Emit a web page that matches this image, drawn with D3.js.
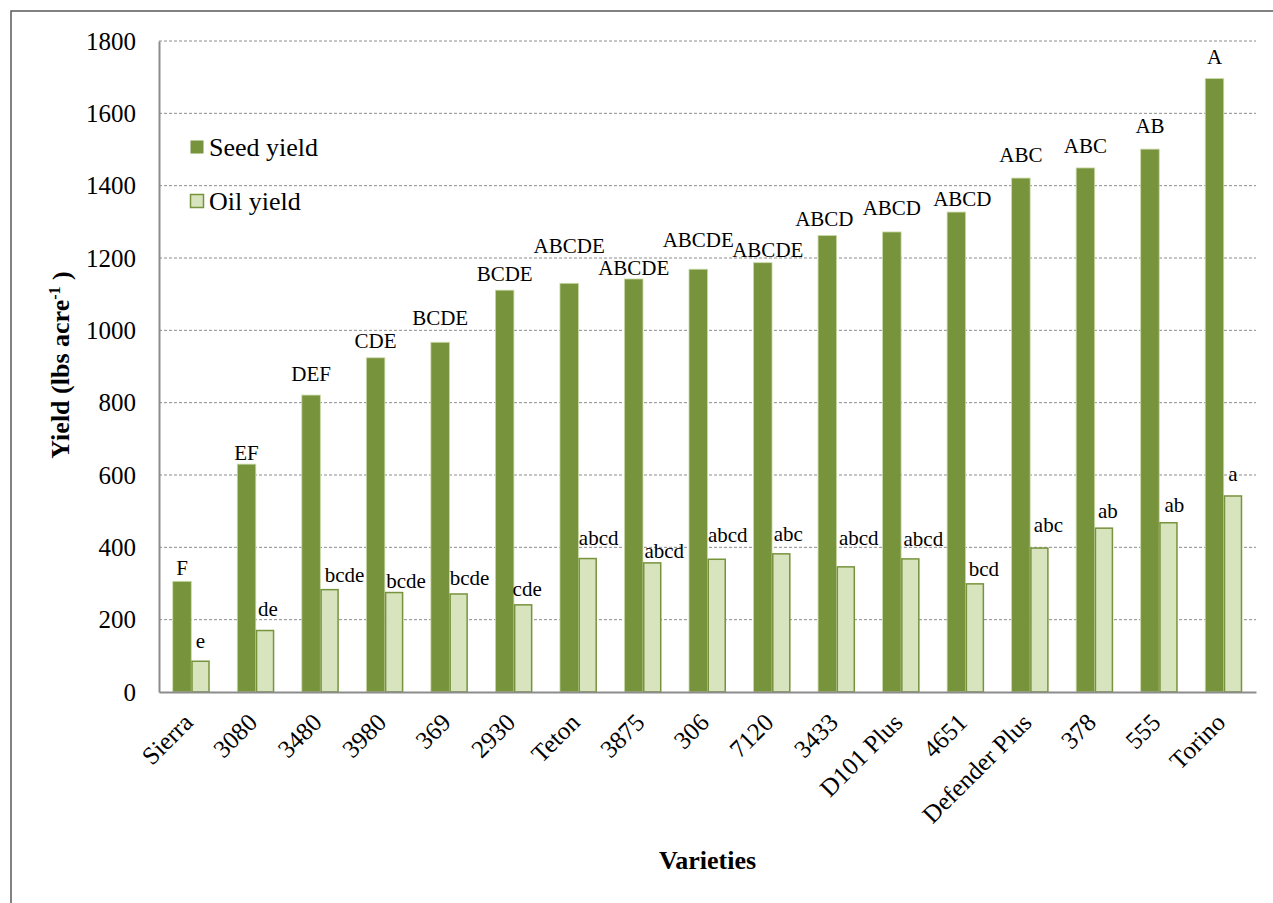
<!DOCTYPE html>
<html>
<head>
<meta charset="utf-8">
<script src="https://cdn.jsdelivr.net/npm/d3@7/dist/d3.min.js"></script>
<style>
  html, body { margin: 0; padding: 0; background: #fff; }
  svg, svg text { font-family: "Liberation Serif", "Times New Roman", serif; }
</style>
</head>
<body>
<svg id="chart" width="1273" height="903"></svg>
<script>
// ---- data ----
const categories = ["Sierra", "3080", "3480", "3980", "369", "2930", "Teton", "3875", "306", "7120", "3433", "D101 Plus", "4651", "Defender Plus", "378", "555", "Torino"];
const seedYield = [306, 630, 821, 924, 967, 1111, 1130, 1142, 1169, 1187, 1262, 1272, 1327, 1421, 1449, 1501, 1696];
const oilYield  = [85, 170, 283, 275, 271, 241, 369, 357, 367, 382, 346, 368, 299, 398, 453, 468, 542];
const seedLetters = ["F", "EF", "DEF", "CDE", "BCDE", "BCDE", "ABCDE", "ABCDE", "ABCDE", "ABCDE", "ABCD", "ABCD", "ABCD", "ABC", "ABC", "AB", "A"];
const oilLetters  = ["e", "de", "bcde", "bcde", "bcde", "cde", "abcd", "abcd", "abcd", "abc", "abcd", "abcd", "bcd", "abc", "ab", "ab", "a"];
const yTicks = [0, 200, 400, 600, 800, 1000, 1200, 1400, 1600, 1800];
const seriesNames = ["Seed yield", "Oil yield"];

// ---- label placement (layout only, px) ----
const seedLabelGap = [14, 12, 21, 17, 25, 17, 38, 11, 30, 13, 17, 24, 13, 23, 22, 23, 22];
const seedLabelDx  = [0, 0, 0, 0, 0, 0, 0, 0, 0, 5, -3, 0, 6, 0, 0, 0, 0];
const oilLabelGap  = [21, 22, 15, 12, 16, 16, 21, 12, 25, 20, 29, 20, 15, 23, 18, 18, 22];
const oilLabelDx   = [0, 3, 15, 12, 11, 4, 11, 12, 11, 7, 13, 13, 9, 9, 4, 6, 0];

// ---- styles ----
const FONT = '"Liberation Serif", "Times New Roman", serif';
const seedColor = "#77933C";
const oilFill = "#D7E4BD";
const oilStroke = "#77933C";

const svg = d3.select("#chart");
const plotLeft = 159, plotRight = 1256, plotTop = 41, plotBottom = 692;

// outer frame
svg.append("rect")
  .attr("x", 11).attr("y", 11)
  .attr("width", 1300).attr("height", 1000)
  .attr("fill", "none").attr("stroke", "#595959").attr("stroke-width", 1.5);

const x0 = d3.scaleBand().domain(categories).range([plotLeft, plotRight])
  .paddingInner(0.4266).paddingOuter(0.2133);
const x1 = d3.scaleBand().domain(seriesNames).range([0, x0.bandwidth()]);
const y = d3.scaleLinear().domain([0, 1800]).range([plotBottom, plotTop]);

// gridlines
svg.append("g").selectAll("line").data(yTicks.filter(d => d > 0)).join("line")
  .attr("x1", plotLeft).attr("x2", plotRight)
  .attr("y1", d => y(d)).attr("y2", d => y(d))
  .attr("stroke", "#8c8c8c").attr("stroke-width", 1)
  .attr("stroke-dasharray", "3,2");

// y axis
const yAxis = svg.append("g").attr("transform", `translate(${plotLeft},0)`)
  .call(d3.axisLeft(y).tickValues(yTicks).tickSize(0).tickPadding(23).tickFormat(d3.format("d")));
yAxis.attr("font-family", null).attr("font-size", null);
yAxis.select(".domain").attr("stroke", "#8c8c8c").attr("stroke-width", 2);
yAxis.selectAll("text").style("font-size", "25px").style("font-family", FONT).attr("fill", "#000");

// bars
const groups = svg.append("g").selectAll("g").data(categories).join("g")
  .attr("transform", d => `translate(${x0(d)},0)`);

groups.append("rect")
  .attr("x", x1("Seed yield"))
  .attr("y", (d, i) => y(seedYield[i]))
  .attr("width", x1.bandwidth())
  .attr("height", (d, i) => y(0) - y(seedYield[i]))
  .attr("fill", seedColor)
  .attr("stroke", "#c9d9a6").attr("stroke-width", 0.8);

groups.append("rect")
  .attr("x", x1("Oil yield") + 0.75)
  .attr("y", (d, i) => y(oilYield[i]))
  .attr("width", x1.bandwidth() - 1.5)
  .attr("height", (d, i) => y(0) - y(oilYield[i]))
  .attr("fill", oilFill)
  .attr("stroke", oilStroke).attr("stroke-width", 1.5);

// x axis
const xAxis = svg.append("g").attr("transform", `translate(0,${plotBottom})`)
  .call(d3.axisBottom(x0).tickSize(0).tickFormat(""));
xAxis.select(".domain").attr("stroke", "#8c8c8c").attr("stroke-width", 2);

// x tick labels rotated
svg.append("g").selectAll("text").data(categories).join("text")
  .attr("transform", d => `translate(${x0(d) + x0.bandwidth() / 2 + 3},${plotBottom + 32}) rotate(-45)`)
  .attr("text-anchor", "end")
  .style("font-family", FONT).style("font-size", "25px")
  .text(d => d);

// data labels
groups.append("text")
  .attr("x", (d, i) => x1("Seed yield") + x1.bandwidth() / 2 + seedLabelDx[i])
  .attr("y", (d, i) => y(seedYield[i]) - seedLabelGap[i])
  .attr("dy", "0.35em")
  .attr("text-anchor", "middle")
  .style("font-family", FONT).style("font-size", "21px")
  .text((d, i) => seedLetters[i]);

groups.append("text")
  .attr("x", (d, i) => x1("Oil yield") + x1.bandwidth() / 2 + oilLabelDx[i])
  .attr("y", (d, i) => y(oilYield[i]) - oilLabelGap[i])
  .attr("dy", "0.35em")
  .attr("text-anchor", "middle")
  .style("font-family", FONT).style("font-size", "21px")
  .text((d, i) => oilLetters[i]);

// legend
const legend = svg.append("g");
const legendItems = [
  { name: seriesNames[0], fill: seedColor, stroke: "none", y: 147 },
  { name: seriesNames[1], fill: oilFill, stroke: oilStroke, y: 201 }
];
legendItems.forEach(it => {
  legend.append("rect")
    .attr("x", 190.5).attr("y", it.y - 6.5).attr("width", 13).attr("height", 13)
    .attr("fill", it.fill).attr("stroke", it.stroke).attr("stroke-width", 1.5);
  legend.append("text")
    .attr("x", 209).attr("y", it.y).attr("dy", "0.35em")
    .style("font-family", FONT).style("font-size", "26px").text(it.name);
});

// axis titles
svg.append("text")
  .attr("x", (plotLeft + plotRight) / 2).attr("y", 860).attr("dy", "0.35em")
  .attr("text-anchor", "middle")
  .style("font-family", FONT).style("font-size", "26px").style("font-weight", "bold")
  .text("Varieties");

const yt = svg.append("text")
  .attr("transform", `translate(60,365) rotate(-90)`)
  .attr("dy", "0.35em")
  .attr("text-anchor", "middle")
  .style("font-family", FONT).style("font-size", "26px").style("font-weight", "bold");
yt.append("tspan").text("Yield (lbs acre");
yt.append("tspan").style("font-size", "16px").attr("dy", "-0.6em").text("-1");
yt.append("tspan").attr("dy", "0.4em").text(" )");
</script>
</body>
</html>
